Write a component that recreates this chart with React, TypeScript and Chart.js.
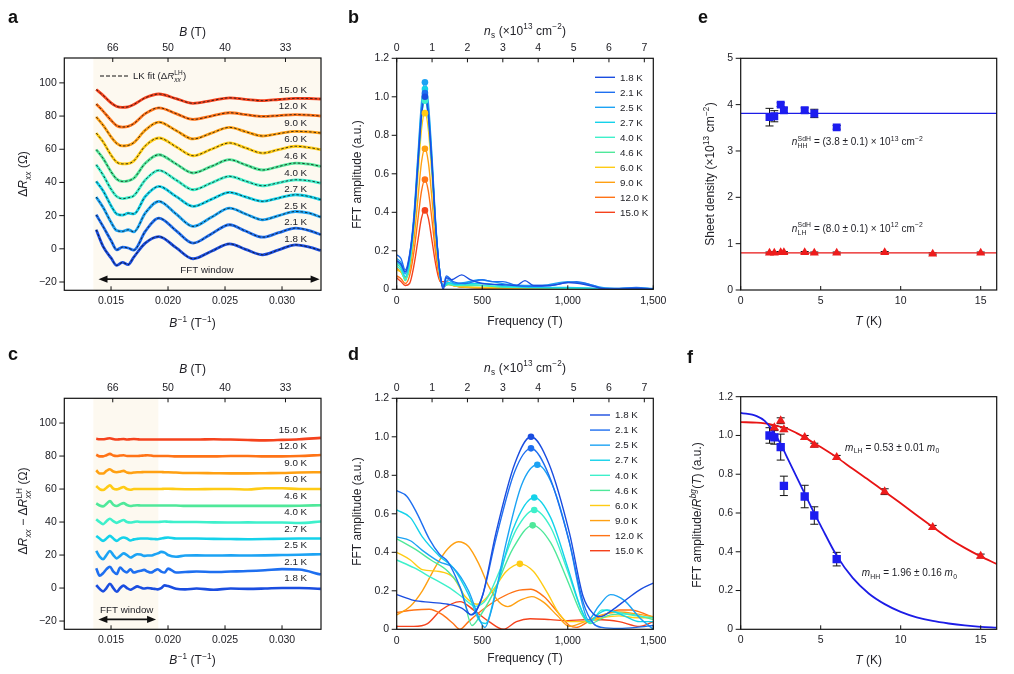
import React, { useEffect, useRef } from 'react';
import { Chart, registerables } from 'chart.js';

Chart.register(...registerables);

const FONT = '"Liberation Sans", Arial, Helvetica, sans-serif';
const INK = '#222228';
const SHADE = '#fdf9f0';

// ---------------- shared ----------------
const TEMPS = ['1.8 K', '2.1 K', '2.5 K', '2.7 K', '4.0 K', '4.6 K', '6.0 K', '9.0 K', '12.0 K', '15.0 K'];
const COLORS = ['#1a4de0', '#1e6ff0', '#1ca3f4', '#14d2ea', '#3ef0cb', '#4fe89a', '#ffcb14', '#ffa012', '#ff7316', '#f5421c'];
const OFFSETS = [0, 10, 20, 30, 40, 50, 60, 70, 80, 90];

// ---------------- panel a (ΔRxx vs 1/B) ----------------
const X_A = [0.0137, 0.0143, 0.0150, 0.0155, 0.0160, 0.0165, 0.0170, 0.0180, 0.0192, 0.0207, 0.0222, 0.0238, 0.0254, 0.0268, 0.0283, 0.0297, 0.0312, 0.0324, 0.0334];
const A_1_8 = [11.5, 1.5, -5.5, -10, -8.2, -9.5, -5, 3.4, 7.4, 0.7, -6, -1.5, 3, -0.3, -3.6, -0.6, 2.4, 1, -1];
const A_2_1 = [20.5, 13.5, 5, -0.6, 1, 0.5, -0.8, 10.5, 18.5, 11, 3.4, 9, 14.5, 10.7, 7, 9.7, 12.5, 11, 8.5];
const A_2_5 = [31.2, 25, 16, 11, 10.5, 11.5, 10.2, 21.5, 28.6, 21, 13.5, 19, 24.5, 21, 17.5, 20, 22.5, 21.5, 19.1];
const A_2_7 = [40.6, 35, 26, 21, 20.3, 21.5, 21, 31.5, 37.6, 31.6, 25.6, 29.8, 34, 31.3, 28.6, 30.6, 32.6, 31.5, 29.6];
const A_4_0 = [50.7, 44.5, 36, 31.5, 30.2, 30.8, 32, 41.5, 47.3, 41.5, 35.6, 39.7, 43.7, 40.8, 38, 39.8, 41.6, 41, 39.6];
const A_4_6 = [59.8, 54.5, 46.5, 42, 40.6, 41, 42.5, 51.5, 56.7, 51.2, 45.7, 49.7, 53.7, 50.6, 47.5, 49.6, 51.7, 51, 49.7];
const A_6_0 = [69.8, 64.5, 56.5, 52.2, 51.2, 51.3, 53, 62, 66.8, 61.5, 56.1, 60, 63.8, 60.8, 57.7, 59.8, 61.8, 61, 59.8];
const A_9_0 = [79.5, 74.5, 67.5, 63.5, 62, 62.3, 64, 71.5, 76.3, 71.3, 66.2, 69.7, 73.2, 70.6, 68, 69.4, 70.8, 70.5, 69.8];
const A_12_0 = [87.3, 83, 77.5, 74.2, 73.4, 73.8, 75.5, 81.5, 85, 81.5, 78, 80, 82, 80.9, 79.8, 80.3, 80.9, 80.6, 80];
const A_15_0 = [96, 92.5, 88, 85.8, 85.3, 85.6, 87, 91, 93.3, 90.5, 87.7, 89.3, 91, 90.1, 89.3, 90, 90.7, 90.6, 90.3];
const DATA_A = [A_1_8, A_2_1, A_2_5, A_2_7, A_4_0, A_4_6, A_6_0, A_9_0, A_12_0, A_15_0];

// ---------------- panel c (residual, relative to each trace's offset) ----------------
const X_C = [0.0137, 0.0140, 0.0143, 0.0146, 0.0149, 0.0152, 0.0155, 0.0158, 0.0161, 0.0164, 0.0167, 0.0170, 0.0173, 0.0176, 0.0179, 0.0182, 0.0185, 0.0188, 0.0191, 0.0194, 0.0197, 0.0200, 0.0207, 0.0215, 0.0225, 0.0240, 0.0255, 0.0270, 0.0285, 0.0300, 0.0315, 0.0334];
const C_1_8 = [1.8, -0.5, -2, 0, 2.6, 0, -2.2, 0, 1.5, 0, -1, 0, 1, 0.3, -0.3, 0, -0.2, -0.5, -0.8, 0, 1.6, 1.2, -0.4, -0.8, -0.3, -1, -0.3, -0.5, -0.3, 0, 0, -0.5];
const C_2_1 = [2, -2.5, -1, 1.5, 2.9, 0, -1.5, 2.5, 0.5, -0.5, 1.4, -0.6, 0, 0.5, 1, 0, -0.6, 0.4, 1.4, 0, -0.6, 1.8, -0.6, -0.3, 0, -0.3, 0, 0.3, 0.8, 1.5, 1.2, -1.8];
const C_2_5 = [2.5, -1, -2.5, 0, 2.5, 0, -2, -0.5, 1, 0, -1.5, -0.5, 0.5, 0.3, -0.5, -0.3, -0.3, 0.3, 1, 1.9, 1.5, 0, -1, -0.3, -0.2, -0.3, -0.2, -0.3, -0.2, 0, 0.2, 0.5];
const C_2_7 = [1.6, 0, -1.4, 0, 1.6, 0, -1.4, 0, 0.6, 0, -1.2, -0.5, -0.2, 0, 0, 0, -0.2, -0.3, -0.4, 0, 0.4, 0.6, 0, 0, 0, -0.2, -0.3, -0.4, -0.3, -0.1, 0, 0];
const C_4_0 = [1.7, 0, -1.3, 0.5, 2, 0.5, -0.5, 0.5, 1.2, 0, -0.3, 0, 0.3, 0, 0, 0, 0, 0, 0, 0.2, 0.3, 0.2, 0, 0, 0, -0.2, -0.3, -0.2, -0.3, -0.3, -0.6, 0.3];
const C_4_6 = [1.3, 0, -0.5, 1, 2.7, 0.5, -0.3, 0.7, 1.5, 0.3, -0.3, 0, 0.2, 0, 0, 0, 0, 0, 0, 0, 0, 0, 0, -0.2, -0.2, -0.2, -0.2, -0.2, -0.2, -0.2, -0.1, 0.2];
const C_6_0 = [1.8, 0, -0.6, 0.8, 2.2, 0.3, -0.2, 0.5, 1.2, 0, -0.4, 0, 0, 0, 0, 0, 0, 0, 0, 0, 0.2, 0.2, 0, -0.1, -0.1, 0, 0, -0.3, 0.5, 0.5, 0, 0];
const C_9_0 = [1.4, -0.6, -0.6, 1, 2, 0.6, 0.2, 0.5, 1, 0, -0.3, 0, 0.2, 0.2, 0.3, 0.3, 0.3, 0.3, 0.3, 0.3, 0.2, 0.2, 0, -0.3, -0.3, -0.4, -0.5, -0.5, -0.4, -0.3, 0, 0.2];
const C_12_0 = [0.8, -0.2, -0.2, 0.5, 1.3, 0.3, 0, 0.3, 0.5, 0, 0, 0, 0, 0.2, 0.3, 0.5, 0.3, 0, 0, 0, 0, 0, -0.2, -0.2, -0.2, -0.2, 0, 0, -0.2, -0.2, 0, 0.6];
const C_15_0 = [0.5, 0.2, 0.2, 0.5, 0.8, 0.3, 0, 0.2, 0.3, 0, 0.2, 0.3, 0.2, 0, 0, 0, 0, 0, 0, 0, 0, 0, 0, 0, 0, 0.2, 0, -0.3, -0.5, -0.2, 0.2, 1.0];
const DATA_C = [C_1_8, C_2_1, C_2_5, C_2_7, C_4_0, C_4_6, C_6_0, C_9_0, C_12_0, C_15_0];

// ---------------- panel b (FFT of ΔRxx) [frequency T, amplitude] ----------------
const B_1_8 = [[0, 0.15], [25, 0.13], [50, 0.09], [75, 0.17], [100, 0.35], [125, 0.66], [145, 0.9], [165, 1.0], [185, 0.9], [205, 0.66], [230, 0.3], [255, 0.07], [272, 0.0], [290, 0.06], [320, 0.05], [380, 0.075], [430, 0.05], [500, 0.03], [600, 0.025], [700, 0.02], [750, 0.045], [800, 0.02], [900, 0.02], [1000, 0.035], [1100, 0.025], [1200, 0.005], [1300, 0.0], [1400, 0.005], [1500, 0.0]];
const B_2_1 = [[0, 0.18], [25, 0.16], [50, 0.1], [75, 0.18], [100, 0.36], [125, 0.67], [145, 0.92], [165, 1.02], [185, 0.92], [205, 0.67], [230, 0.3], [255, 0.07], [270, 0.01], [290, 0.07], [330, 0.04], [400, 0.03], [500, 0.05], [560, 0.04], [620, 0.04], [700, 0.02], [800, 0.015], [900, 0.02], [1050, 0.04], [1150, 0.02], [1200, 0.005], [1300, 0.005], [1400, 0.01], [1500, 0.0]];
const B_2_5 = [[0, 0.16], [25, 0.14], [50, 0.08], [75, 0.17], [100, 0.38], [125, 0.71], [145, 0.97], [165, 1.075], [185, 0.97], [205, 0.71], [230, 0.32], [255, 0.07], [275, 0.02], [300, 0.05], [340, 0.03], [400, 0.035], [480, 0.05], [560, 0.04], [650, 0.025], [750, 0.02], [850, 0.02], [1000, 0.04], [1100, 0.03], [1200, 0.01], [1300, 0.005], [1400, 0.008], [1500, 0.005]];
const B_2_7 = [[0, 0.14], [25, 0.12], [50, 0.065], [75, 0.15], [100, 0.36], [125, 0.69], [145, 0.94], [165, 1.04], [185, 0.94], [205, 0.69], [230, 0.31], [255, 0.07], [275, 0.015], [300, 0.035], [350, 0.025], [420, 0.03], [500, 0.03], [600, 0.02], [700, 0.015], [800, 0.01], [1000, 0.01], [1200, 0.005], [1500, 0.0]];
const B_4_0 = [[0, 0.12], [25, 0.1], [50, 0.05], [75, 0.13], [100, 0.33], [125, 0.65], [145, 0.89], [165, 0.98], [185, 0.89], [205, 0.65], [230, 0.29], [255, 0.06], [275, 0.015], [300, 0.03], [350, 0.02], [420, 0.025], [500, 0.02], [600, 0.015], [700, 0.01], [850, 0.008], [1000, 0.005], [1500, 0.0]];
const B_4_6 = [[0, 0.13], [25, 0.11], [50, 0.045], [75, 0.13], [100, 0.34], [125, 0.66], [145, 0.9], [165, 0.995], [185, 0.9], [205, 0.66], [230, 0.29], [255, 0.06], [275, 0.015], [300, 0.025], [350, 0.02], [420, 0.02], [500, 0.02], [600, 0.012], [700, 0.01], [1000, 0.005], [1500, 0.0]];
const B_6_0 = [[0, 0.10], [25, 0.09], [50, 0.055], [75, 0.12], [100, 0.31], [125, 0.6], [145, 0.83], [165, 0.915], [185, 0.83], [205, 0.6], [230, 0.27], [255, 0.06], [275, 0.015], [300, 0.03], [350, 0.015], [420, 0.012], [500, 0.01], [700, 0.008], [1000, 0.005], [1500, 0.0]];
const B_9_0 = [[0, 0.11], [25, 0.09], [50, 0.06], [75, 0.1], [100, 0.25], [125, 0.48], [145, 0.66], [165, 0.73], [185, 0.66], [205, 0.48], [230, 0.21], [255, 0.05], [275, 0.015], [300, 0.025], [350, 0.015], [420, 0.01], [500, 0.008], [700, 0.005], [1000, 0.003], [1500, 0.0]];
const B_12_0 = [[0, 0.07], [25, 0.055], [50, 0.03], [75, 0.07], [100, 0.19], [125, 0.37], [145, 0.51], [165, 0.57], [185, 0.51], [205, 0.37], [230, 0.17], [255, 0.045], [280, 0.02], [300, 0.03], [350, 0.015], [420, 0.01], [600, 0.005], [1500, 0.0]];
const B_15_0 = [[0, 0.06], [25, 0.04], [50, 0.02], [75, 0.03], [100, 0.12], [125, 0.26], [145, 0.37], [165, 0.41], [185, 0.37], [205, 0.26], [230, 0.12], [255, 0.04], [290, 0.04], [330, 0.02], [400, 0.01], [600, 0.005], [1500, 0.0]];
const DATA_B = [B_1_8, B_2_1, B_2_5, B_2_7, B_4_0, B_4_6, B_6_0, B_9_0, B_12_0, B_15_0];
const B_PEAK_F = [165, 165, 165, 165, 165, 165, 165, 165, 165, 165];
const B_PEAK_A = [1.0, 1.02, 1.075, 1.04, 0.98, 0.995, 0.915, 0.73, 0.57, 0.41];

// ---------------- panel d (FFT of residual) ----------------
const D_1_8 = [[0, 0.18], [100, 0.15], [200, 0.14], [300, 0.13], [380, 0.11], [440, 0.075], [500, 0.17], [580, 0.5], [690, 0.86], [785, 1.0], [890, 0.86], [1010, 0.5], [1090, 0.17], [1150, 0.08], [1190, 0.066], [1260, 0.1], [1350, 0.16], [1430, 0.21], [1500, 0.24]];
const D_2_1 = [[0, 0.72], [60, 0.69], [120, 0.6], [190, 0.47], [250, 0.39], [300, 0.35], [370, 0.22], [430, 0.075], [500, 0.17], [580, 0.47], [690, 0.82], [785, 0.94], [890, 0.8], [1010, 0.45], [1090, 0.14], [1150, 0.03], [1200, 0.01], [1300, 0.005], [1400, 0.01], [1500, 0.02]];
const D_2_5 = [[0, 0.48], [80, 0.46], [150, 0.41], [250, 0.35], [330, 0.32], [420, 0.2], [490, 0.04], [515, 0.01], [560, 0.12], [640, 0.45], [730, 0.75], [822, 0.855], [910, 0.75], [1010, 0.45], [1080, 0.15], [1120, 0.05], [1180, 0.12], [1250, 0.18], [1330, 0.15], [1420, 0.06], [1500, 0.0]];
const D_2_7 = [[0, 0.62], [80, 0.58], [150, 0.48], [250, 0.38], [330, 0.32], [420, 0.18], [480, 0.05], [520, 0.03], [580, 0.2], [680, 0.52], [804, 0.685], [900, 0.58], [1000, 0.32], [1080, 0.1], [1120, 0.04], [1180, 0.08], [1230, 0.1], [1330, 0.07], [1420, 0.04], [1500, 0.04]];
const D_4_0 = [[0, 0.36], [100, 0.32], [200, 0.27], [300, 0.22], [380, 0.17], [460, 0.12], [520, 0.15], [600, 0.3], [700, 0.52], [804, 0.62], [900, 0.53], [1000, 0.3], [1080, 0.1], [1130, 0.035], [1200, 0.1], [1280, 0.09], [1400, 0.07], [1500, 0.06]];
const D_4_6 = [[0, 0.47], [100, 0.42], [200, 0.36], [300, 0.3], [380, 0.2], [440, 0.02], [480, 0.06], [560, 0.18], [680, 0.42], [795, 0.54], [900, 0.45], [1000, 0.25], [1080, 0.08], [1130, 0.03], [1230, 0.07], [1330, 0.08], [1420, 0.07], [1500, 0.05]];
const D_6_0 = [[0, 0.40], [80, 0.36], [150, 0.31], [250, 0.30], [330, 0.27], [400, 0.17], [470, 0.13], [560, 0.2], [640, 0.3], [720, 0.34], [800, 0.3], [880, 0.19], [950, 0.08], [1000, 0.04], [1100, 0.04], [1200, 0.06], [1300, 0.07], [1400, 0.06], [1500, 0.06]];
const D_9_0 = [[0, 0.075], [80, 0.12], [150, 0.2], [230, 0.33], [300, 0.42], [360, 0.455], [420, 0.43], [480, 0.34], [540, 0.22], [600, 0.14], [650, 0.118], [720, 0.15], [790, 0.17], [860, 0.14], [940, 0.07], [1010, 0.015], [1100, 0.04], [1200, 0.075], [1300, 0.09], [1400, 0.08], [1500, 0.065]];
const D_12_0 = [[0, 0.087], [100, 0.1], [190, 0.104], [260, 0.08], [330, 0.03], [370, 0.0], [420, 0.04], [500, 0.1], [600, 0.16], [700, 0.2], [785, 0.208], [860, 0.17], [940, 0.09], [1010, 0.02], [1050, 0.01], [1120, 0.04], [1200, 0.07], [1300, 0.1], [1370, 0.1], [1450, 0.08], [1500, 0.06]];
const D_15_0 = [[0, 0.015], [100, 0.015], [180, 0.03], [260, 0.1], [370, 0.144], [450, 0.1], [540, 0.04], [623, 0.0], [700, 0.04], [780, 0.055], [900, 0.05], [1000, 0.045], [1100, 0.05], [1200, 0.05], [1300, 0.04], [1420, 0.015], [1500, 0.04]];
const DATA_D = [D_1_8, D_2_1, D_2_5, D_2_7, D_4_0, D_4_6, D_6_0, D_9_0, D_12_0, D_15_0];
const D_PEAK_F = [785, 785, 822, 804, 804, 795, 720];
const D_PEAK_A = [1.0, 0.94, 0.855, 0.685, 0.62, 0.54, 0.34];

// ---------------- panel e (sheet density) ----------------
const T_HH = [1.8, 2.1, 2.5, 2.7, 4.0, 4.6, 6.0];
const N_HH = [3.73, 3.75, 4.0, 3.88, 3.88, 3.81, 3.51];
const N_HH_ERR = [0.19, 0.12, 0.04, 0.05, 0.05, 0.09, 0.04];
const T_LH = [1.8, 2.1, 2.5, 2.7, 4.0, 4.6, 6.0, 9.0, 12.0, 15.0];
const N_LH = [0.80, 0.80, 0.81, 0.81, 0.81, 0.80, 0.80, 0.81, 0.78, 0.80];
const N_LH_ERR = [0.02, 0.02, 0.02, 0.02, 0.02, 0.02, 0.02, 0.02, 0.02, 0.02];
const N_HH_MEAN = 3.81;
const N_LH_MEAN = 0.80;

// ---------------- panel f (amplitude vs T) ----------------
const T_HH_F = [1.8, 2.1, 2.5, 2.7, 4.0, 4.6, 6.0];
const AMP_HH = [1.0, 0.99, 0.94, 0.74, 0.685, 0.587, 0.362];
const AMP_HH_ERR = [0.04, 0.035, 0.067, 0.05, 0.058, 0.045, 0.035];
const T_LH_F = [2.1, 2.5, 2.7, 4.0, 4.6, 6.0, 9.0, 12.0, 15.0];
const AMP_LH = [1.04, 1.076, 1.03, 0.99, 0.95, 0.887, 0.71, 0.526, 0.378];
const AMP_LH_ERR = [0.01, 0.015, 0.01, 0.01, 0.01, 0.01, 0.015, 0.01, 0.01];
const FIT_T = [0, 1, 1.5, 2, 2.5, 3, 3.5, 4, 4.5, 5, 6, 7, 8, 9, 10, 11, 12, 13, 14, 15, 16];
const FIT_HH = [1.117, 1.10, 1.075, 1.025, 0.955, 0.87, 0.785, 0.70, 0.615, 0.535, 0.38, 0.265, 0.185, 0.13, 0.09, 0.062, 0.043, 0.03, 0.02, 0.013, 0.009];
const FIT_LH = [1.069, 1.066, 1.062, 1.055, 1.045, 1.032, 1.012, 0.99, 0.965, 0.94, 0.887, 0.828, 0.77, 0.71, 0.65, 0.588, 0.528, 0.47, 0.42, 0.376, 0.337];

// ---------------- tick labels ----------------
const TICKS_INV_B = [0.015, 0.020, 0.025, 0.030];
const TICKS_B_FIELD = [66, 50, 40, 33];
const TICKS_DR = [-20, 0, 20, 40, 60, 80, 100];
const TICKS_FREQ = [0, 500, 1000, 1500];
const TICKS_NS = [0, 1, 2, 3, 4, 5, 6, 7];
const TICKS_AMP = [0, 0.2, 0.4, 0.6, 0.8, 1.0, 1.2];
const TICKS_T = [0, 5, 10, 15];
const TICKS_DENS = [0, 1, 2, 3, 4, 5];
const NS_PER_FREQ = 7.254 / 1500; // ×10^13 cm^-2 per tesla (2e/h)

// ---------------- rich text ----------------
type Seg = { t?: string; it?: boolean; sub?: string; sup?: string; subIt?: boolean; supIt?: boolean };

function fnt(size: number, it?: boolean, bold?: boolean) {
  return `${it ? 'italic ' : ''}${bold ? 'bold ' : ''}${size}px ${FONT}`;
}

function richWidth(ctx: CanvasRenderingContext2D, segs: Seg[], size: number) {
  let w = 0;
  for (const s of segs) {
    if (s.t) { ctx.font = fnt(size, s.it); w += ctx.measureText(s.t).width; }
    if (s.sub || s.sup) {
      const ss = size * 0.68;
      let a = 0, b = 0;
      if (s.sub) { ctx.font = fnt(ss, s.subIt); a = ctx.measureText(s.sub).width; }
      if (s.sup) { ctx.font = fnt(ss, s.supIt); b = ctx.measureText(s.sup).width; }
      w += Math.max(a, b) + 0.6;
    }
  }
  return w;
}

function drawRich(ctx: CanvasRenderingContext2D, segs: Seg[], x: number, y: number, size: number, align = 'left', rot = 0) {
  ctx.save();
  ctx.translate(x, y);
  if (rot) ctx.rotate(rot);
  const w = richWidth(ctx, segs, size);
  let cx = align === 'center' ? -w / 2 : align === 'right' ? -w : 0;
  ctx.fillStyle = INK;
  ctx.textBaseline = 'alphabetic';
  ctx.textAlign = 'left';
  const base = size * 0.36;
  for (const s of segs) {
    if (s.t) {
      ctx.font = fnt(size, s.it);
      ctx.fillText(s.t, cx, base);
      cx += ctx.measureText(s.t).width;
    }
    if (s.sub || s.sup) {
      const ss = size * 0.68;
      let a = 0, b = 0;
      if (s.sub) { ctx.font = fnt(ss, s.subIt); ctx.fillText(s.sub, cx + 0.3, base + size * 0.27); a = ctx.measureText(s.sub).width; }
      if (s.sup) { ctx.font = fnt(ss, s.supIt); ctx.fillText(s.sup, cx + 0.3, base - size * 0.46); b = ctx.measureText(s.sup).width; }
      cx += Math.max(a, b) + 0.6;
    }
  }
  ctx.restore();
}

// ---------------- drawing helpers ----------------
type Box = { x: number; y: number; w: number; h: number };
type Area = { l: number; t: number; r: number; b: number };

function frameAndTicks(chart: any) {
  const { ctx, chartArea: ca } = chart;
  ctx.save();
  ctx.strokeStyle = '#111';
  ctx.lineWidth = 1.2;
  ctx.strokeRect(ca.left, ca.top, ca.right - ca.left, ca.bottom - ca.top);
  ctx.lineWidth = 1;
  for (const s of Object.values(chart.scales) as any[]) {
    for (const t of s.ticks) {
      const p = s.getPixelForValue(t.value);
      ctx.beginPath();
      if (s.position === 'left') { ctx.moveTo(ca.left - 5, p); ctx.lineTo(ca.left, p); }
      else if (s.position === 'bottom') { ctx.moveTo(p, ca.bottom); ctx.lineTo(p, ca.bottom - 4); }
      else if (s.position === 'top') { ctx.moveTo(p, ca.top); ctx.lineTo(p, ca.top + 4); }
      ctx.stroke();
    }
  }
  ctx.restore();
}

function dblArrow(ctx: CanvasRenderingContext2D, x1: number, x2: number, y: number) {
  ctx.save();
  ctx.strokeStyle = '#111';
  ctx.fillStyle = '#111';
  ctx.lineWidth = 1.8;
  ctx.beginPath();
  ctx.moveTo(x1 + 5, y); ctx.lineTo(x2 - 5, y); ctx.stroke();
  ctx.beginPath();
  ctx.moveTo(x1, y); ctx.lineTo(x1 + 9, y - 3.6); ctx.lineTo(x1 + 9, y + 3.6); ctx.closePath(); ctx.fill();
  ctx.beginPath();
  ctx.moveTo(x2, y); ctx.lineTo(x2 - 9, y - 3.6); ctx.lineTo(x2 - 9, y + 3.6); ctx.closePath(); ctx.fill();
  ctx.restore();
}

function errorBars(chart: any, xs: number[], ys: number[], es: number[]) {
  const { ctx } = chart;
  const sx = chart.scales.x, sy = chart.scales.y;
  ctx.save();
  ctx.strokeStyle = '#111';
  ctx.lineWidth = 1;
  xs.forEach((xv, i) => {
    const x = sx.getPixelForValue(xv);
    const y1 = sy.getPixelForValue(ys[i] - es[i]);
    const y2 = sy.getPixelForValue(ys[i] + es[i]);
    ctx.beginPath();
    ctx.moveTo(x, y1); ctx.lineTo(x, y2);
    ctx.moveTo(x - 4, y1); ctx.lineTo(x + 4, y1);
    ctx.moveTo(x - 4, y2); ctx.lineTo(x + 4, y2);
    ctx.stroke();
  });
  ctx.restore();
}

function letter(ctx: CanvasRenderingContext2D, ch: string, x: number, y: number) {
  ctx.save();
  ctx.fillStyle = '#111';
  ctx.font = fnt(18, false, true);
  ctx.textBaseline = 'alphabetic';
  ctx.textAlign = 'left';
  ctx.fillText(ch, x, y);
  ctx.restore();
}

function legendLines(ctx: CanvasRenderingContext2D, x1: number, x2: number, tx: number, y0: number, dy: number) {
  ctx.save();
  TEMPS.forEach((t, i) => {
    const y = y0 + dy * i;
    ctx.strokeStyle = COLORS[i];
    ctx.lineWidth = 1.4;
    ctx.beginPath(); ctx.moveTo(x1, y); ctx.lineTo(x2, y); ctx.stroke();
    ctx.fillStyle = INK;
    ctx.font = fnt(9.8);
    ctx.textBaseline = 'middle';
    ctx.textAlign = 'left';
    ctx.fillText(t, tx, y + 0.5);
  });
  ctx.restore();
}

function lin(pos: string, min: number, max: number, ticks: number[], fmt: (v: number) => string, pad: number) {
  return {
    type: 'linear', position: pos, min, max,
    axis: pos === 'left' ? 'y' : 'x',
    afterBuildTicks: (s: any) => { s.ticks = ticks.map((v) => ({ value: v })); },
    grid: { display: false, drawTicks: false },
    border: { display: false },
    ticks: { autoSkip: false, maxRotation: 0, minRotation: 0, padding: pad, color: INK, font: { family: FONT, size: 10.5 }, callback: (v: any) => fmt(Number(v)) },
  };
}

function makeConfig(box: Box, area: Area, datasets: any[], xs: any, ys: any, top: any, before: any, after: any) {
  const yW = area.l - box.x;
  const bH = box.y + box.h - area.b;
  const tH = area.t - box.y;
  const scales: any = {
    x: { ...xs, afterFit: (s: any) => { s.height = bH; } },
    y: { ...ys, afterFit: (s: any) => { s.width = yW; } },
  };
  if (top) scales.x2 = { ...top, afterFit: (s: any) => { s.height = tH; } };
  return {
    type: 'scatter',
    data: { datasets },
    options: {
      responsive: false,
      animation: false,
      events: [],
      layout: { padding: { left: 0, right: box.x + box.w - area.r, top: top ? 0 : tH, bottom: 0 } },
      plugins: { legend: { display: false }, tooltip: { enabled: false } },
      elements: { point: { radius: 0 }, line: { cubicInterpolationMode: 'monotone' } },
      scales,
    },
    plugins: [{
      id: 'deco',
      beforeDatasetsDraw: (c: any) => { if (before) before(c); },
      afterDraw: (c: any) => { frameAndTicks(c); if (after) after(c); },
    }],
  };
}

const fmtInvB = (v: number) => v.toFixed(3);
const fmtDR = (v: number) => (v < 0 ? '\u2212' + Math.abs(v) : String(v));
const fmtField = (v: number) => String(Math.round(1 / v));
const fmtFreq = (v: number) => v.toLocaleString('en-US');
const fmtAmp = (v: number) => (v === 0 ? '0' : v.toFixed(1));
const fmtInt = (v: number) => String(Math.round(v));

const T_B: Seg[] = [{ t: 'B', it: true }, { t: ' (T)' }];
const T_INVB: Seg[] = [{ t: 'B', it: true, sup: '\u22121' }, { t: ' (T' }, { sup: '\u22121' }, { t: ')' }];
const T_NS: Seg[] = [{ t: 'n', it: true, sub: 's' }, { t: ' (\u00d710' }, { sup: '13' }, { t: ' cm' }, { sup: '\u22122' }, { t: ')' }];
const T_FREQ: Seg[] = [{ t: 'Frequency (T)' }];
const T_FFT: Seg[] = [{ t: 'FFT amplitude (a.u.)' }];
const T_TK: Seg[] = [{ t: 'T', it: true }, { t: ' (K)' }];
const UP = -Math.PI / 2;

// ---------------- panel specs ----------------
function buildA(box: Box, area: Area, residual: boolean) {
  const ds: any[] = [];
  const xs = residual ? X_C : X_A;
  (residual ? DATA_C : DATA_A).forEach((arr, i) => {
    const pts = xs.map((x, j) => ({ x, y: residual ? arr[j] + OFFSETS[i] : arr[j] }));
    ds.push({ data: pts, showLine: true, borderColor: COLORS[i], borderWidth: residual ? 2.6 : 2.8, pointRadius: 0, order: 2 });
    if (!residual) ds.push({ data: pts, showLine: true, borderColor: '#111', borderWidth: 0.8, borderDash: [2.5, 2], pointRadius: 0, order: 1 });
  });
  const P = (x: number, y: number) => [x - box.x, y - box.y];
  const before = (c: any) => {
    const { ctx, chartArea: ca } = c;
    const x0 = c.scales.x.getPixelForValue(0.01345);
    const x1 = residual ? c.scales.x.getPixelForValue(0.01915) : ca.right;
    ctx.save(); ctx.fillStyle = SHADE; ctx.fillRect(x0, ca.top, x1 - x0, ca.bottom - ca.top); ctx.restore();
  };
  const after = (c: any) => {
    const { ctx } = c;
    const sx = c.scales.x, sy = c.scales.y;
    let [lx, ly] = P(8, box.y + 23);
    letter(ctx, residual ? 'c' : 'a', lx, ly);
    let [tx, ty] = P(192.6, box.y + 32);
    drawRich(ctx, T_B, tx, ty, 12, 'center');
    [tx, ty] = P(192.6, box.y + 323);
    drawRich(ctx, T_INVB, tx, ty, 12, 'center');
    [tx, ty] = P(23, box.y + 174);
    const ytitle: Seg[] = residual
      ? [{ t: '\u0394' }, { t: 'R', it: true, sub: 'xx', subIt: true }, { t: ' \u2212 \u0394' }, { t: 'R', it: true, sub: 'xx', subIt: true, sup: 'LH' }, { t: ' (\u03a9)' }]
      : [{ t: '\u0394' }, { t: 'R', it: true, sub: 'xx', subIt: true }, { t: ' (\u03a9)' }];
    drawRich(ctx, ytitle, tx, ty, 12, 'center', UP);
    // temperature labels
    ctx.save();
    ctx.fillStyle = INK; ctx.font = fnt(9.8); ctx.textAlign = 'right'; ctx.textBaseline = 'middle';
    TEMPS.forEach((t, i) => ctx.fillText(t, sx.getPixelForValue(0.0322), sy.getPixelForValue(OFFSETS[i] + 5.8)));
    ctx.restore();
    // FFT window
    if (residual) {
      dblArrow(ctx, sx.getPixelForValue(0.01389), sx.getPixelForValue(0.01895), sy.getPixelForValue(-19));
      drawRich(ctx, [{ t: 'FFT window' }], sx.getPixelForValue(0.01638), sy.getPixelForValue(-12.7), 9.8, 'center');
    } else {
      dblArrow(ctx, sx.getPixelForValue(0.0139), sx.getPixelForValue(0.0333), sy.getPixelForValue(-18.3));
      drawRich(ctx, [{ t: 'FFT window' }], sx.getPixelForValue(0.02342), sy.getPixelForValue(-12.3), 9.8, 'center');
      // LK fit legend
      const [a1, ay] = P(100, 76);
      const [a2] = P(128, 76);
      ctx.save(); ctx.strokeStyle = '#111'; ctx.lineWidth = 1; ctx.setLineDash([4, 2]);
      ctx.beginPath(); ctx.moveTo(a1, ay); ctx.lineTo(a2, ay); ctx.stroke(); ctx.restore();
      const [t1] = P(133, 76);
      drawRich(ctx, [{ t: 'LK fit (\u0394' }, { t: 'R', it: true, sub: 'xx', subIt: true, sup: 'LH' }, { t: ')' }], t1, ay, 9.6, 'left');
    }
  };
  return makeConfig(box, area, ds,
    lin('bottom', 0.0109, 0.03342, TICKS_INV_B, fmtInvB, 5),
    lin('left', -25, 115, TICKS_DR, fmtDR, 7.5),
    lin('top', 0.0109, 0.03342, TICKS_B_FIELD.map((b) => 1 / b), fmtField, 3.5),
    before, after);
}

function buildFFT(box: Box, area: Area, second: boolean) {
  const ds: any[] = [];
  (second ? DATA_D : DATA_B).forEach((arr, i) => {
    ds.push({ data: arr.map(([x, y]) => ({ x, y })), showLine: true, borderColor: COLORS[i], borderWidth: 1.4, pointRadius: 0, order: 2 });
  });
  const pf = second ? D_PEAK_F : B_PEAK_F;
  const pa = second ? D_PEAK_A : B_PEAK_A;
  pa.forEach((a, i) => {
    ds.push({ data: [{ x: pf[i], y: a }], showLine: false, pointRadius: 3.3, pointBackgroundColor: COLORS[i], pointBorderWidth: 0, order: 1 });
  });
  const P = (x: number, y: number) => [x - box.x, y - box.y];
  const after = (c: any) => {
    const { ctx } = c;
    let [lx, ly] = P(348, box.y + 23);
    letter(ctx, second ? 'd' : 'b', lx, ly);
    let [tx, ty] = P(525, box.y + 30.5);
    drawRich(ctx, T_NS, tx, ty, 12, 'center');
    [tx, ty] = P(525, box.y + 321);
    drawRich(ctx, T_FREQ, tx, ty, 12, 'center');
    [tx, ty] = P(356.7, box.y + 174.5);
    drawRich(ctx, T_FFT, tx, ty, 12, 'center', UP);
    if (second) {
      const [x1, y0] = P(590, 415); const [x2] = P(610, 0); const [t1] = P(615, 0);
      legendLines(ctx, x1, x2, t1, y0, 15.08);
    } else {
      const [x1, y0] = P(595, 77.3); const [x2] = P(615, 0); const [t1] = P(620, 0);
      legendLines(ctx, x1, x2, t1, y0, 15.0);
    }
  };
  return makeConfig(box, area, ds,
    lin('bottom', 0, 1500, TICKS_FREQ, fmtFreq, 5.5),
    lin('left', 0, 1.2, TICKS_AMP, fmtAmp, 7.5),
    lin('top', 0, 1500 * NS_PER_FREQ, TICKS_NS, fmtInt, 3.5),
    null, after);
}

function buildE(box: Box, area: Area) {
  const ds: any[] = [
    { data: T_HH.map((x, i) => ({ x, y: N_HH[i] })), showLine: false, pointStyle: 'rect', pointRadius: 5.6, pointBackgroundColor: '#1c1cf0', pointBorderWidth: 0, order: 0 },
    { data: T_LH.map((x, i) => ({ x, y: N_LH[i] })), showLine: false, pointStyle: 'triangle', pointRadius: 5.2, pointBackgroundColor: '#ee1c1c', pointBorderWidth: 0, order: 0 },
    { data: [{ x: 0, y: N_HH_MEAN }, { x: 16, y: N_HH_MEAN }], showLine: true, borderColor: '#1c1ce6', borderWidth: 1.2, pointRadius: 0, order: 3 },
    { data: [{ x: 0, y: N_LH_MEAN }, { x: 16, y: N_LH_MEAN }], showLine: true, borderColor: '#e81414', borderWidth: 1.2, pointRadius: 0, order: 3 },
  ];
  const P = (x: number, y: number) => [x - box.x, y - box.y];
  const before = (c: any) => {
    errorBars(c, T_HH, N_HH, N_HH_ERR);
    errorBars(c, T_LH, N_LH, N_LH_ERR);
  };
  const after = (c: any) => {
    const { ctx } = c;
    const sx = c.scales.x, sy = c.scales.y;
    let [lx, ly] = P(698, 23);
    letter(ctx, 'e', lx, ly);
    let [tx, ty] = P(868.7, 321);
    drawRich(ctx, T_TK, tx, ty, 12, 'center');
    [tx, ty] = P(710, 174);
    drawRich(ctx, [{ t: 'Sheet density (\u00d710' }, { sup: '13' }, { t: ' cm' }, { sup: '\u22122' }, { t: ')' }], tx, ty, 12, 'center', UP);
    drawRich(ctx, [{ t: 'n', it: true, sub: 'HH', sup: 'SdH' }, { t: ' = (3.8 \u00b1 0.1) \u00d7 10' }, { sup: '13' }, { t: ' cm' }, { sup: '\u22122' }],
      sx.getPixelForValue(3.19), sy.getPixelForValue(3.2), 10, 'left');
    drawRich(ctx, [{ t: 'n', it: true, sub: 'LH', sup: 'SdH' }, { t: ' = (8.0 \u00b1 0.1) \u00d7 10' }, { sup: '12' }, { t: ' cm' }, { sup: '\u22122' }],
      sx.getPixelForValue(3.19), sy.getPixelForValue(1.33), 10, 'left');
  };
  return makeConfig(box, area, ds,
    lin('bottom', 0, 16, TICKS_T, fmtInt, 5),
    lin('left', 0, 5, TICKS_DENS, fmtInt, 7.5),
    null, before, after);
}

function buildF(box: Box, area: Area) {
  const ds: any[] = [
    { data: T_HH_F.map((x, i) => ({ x, y: AMP_HH[i] })), showLine: false, pointStyle: 'rect', pointRadius: 5.9, pointBackgroundColor: '#1c1cf0', pointBorderWidth: 0, order: 0 },
    { data: T_LH_F.map((x, i) => ({ x, y: AMP_LH[i] })), showLine: false, pointStyle: 'triangle', pointRadius: 5.4, pointBackgroundColor: '#ee1c1c', pointBorderWidth: 0, order: 0 },
    { data: FIT_T.map((x, i) => ({ x, y: FIT_HH[i] })), showLine: true, borderColor: '#1c1ce6', borderWidth: 1.8, pointRadius: 0, order: 3 },
    { data: FIT_T.map((x, i) => ({ x, y: FIT_LH[i] })), showLine: true, borderColor: '#e81414', borderWidth: 1.8, pointRadius: 0, order: 3 },
  ];
  const P = (x: number, y: number) => [x - box.x, y - box.y];
  const before = (c: any) => {
    errorBars(c, T_HH_F, AMP_HH, AMP_HH_ERR);
    errorBars(c, T_LH_F, AMP_LH, AMP_LH_ERR);
  };
  const after = (c: any) => {
    const { ctx } = c;
    const sx = c.scales.x, sy = c.scales.y;
    let [lx, ly] = P(687, 363);
    letter(ctx, 'f', lx, ly);
    let [tx, ty] = P(868.7, 660);
    drawRich(ctx, T_TK, tx, ty, 12, 'center');
    [tx, ty] = P(697, 515);
    drawRich(ctx, [{ t: 'FFT amplitude/' }, { t: 'R', it: true, sup: 'bg', supIt: true }, { t: '(' }, { t: 'T', it: true }, { t: ') (a.u.)' }], tx, ty, 12, 'center', UP);
    drawRich(ctx, [{ t: 'm', it: true, sub: 'LH' }, { t: ' = 0.53 \u00b1 0.01 ' }, { t: 'm', it: true, sub: '0' }],
      sx.getPixelForValue(6.52), sy.getPixelForValue(0.94), 10, 'left');
    drawRich(ctx, [{ t: 'm', it: true, sub: 'HH' }, { t: ' = 1.96 \u00b1 0.16 ' }, { t: 'm', it: true, sub: '0' }],
      sx.getPixelForValue(7.56), sy.getPixelForValue(0.294), 10, 'left');
  };
  return makeConfig(box, area, ds,
    lin('bottom', 0, 16, TICKS_T, fmtInt, 5),
    lin('left', 0, 1.2, TICKS_AMP, fmtAmp, 7.5),
    null, before, after);
}

type Spec = { id: string; box: Box; area: Area; build: (b: Box, a: Area) => any };

const PANELS: Spec[] = [
  { id: 'a', box: { x: 0, y: 0, w: 338, h: 337 }, area: { l: 64.3, t: 58, r: 321, b: 290.3 }, build: (b, a) => buildA(b, a, false) },
  { id: 'b', box: { x: 338, y: 0, w: 342, h: 337 }, area: { l: 396.7, t: 58.3, r: 653.3, b: 289.3 }, build: (b, a) => buildFFT(b, a, false) },
  { id: 'e', box: { x: 680, y: 0, w: 334, h: 337 }, area: { l: 740.7, t: 58.3, r: 996.7, b: 290 }, build: (b, a) => buildE(b, a) },
  { id: 'c', box: { x: 0, y: 337, w: 338, h: 337 }, area: { l: 64.3, t: 398.3, r: 321, b: 629.3 }, build: (b, a) => buildA(b, a, true) },
  { id: 'd', box: { x: 338, y: 337, w: 342, h: 337 }, area: { l: 396.7, t: 398.3, r: 653.3, b: 629.3 }, build: (b, a) => buildFFT(b, a, true) },
  { id: 'f', box: { x: 680, y: 337, w: 334, h: 337 }, area: { l: 740.7, t: 396.7, r: 996.7, b: 629.3 }, build: (b, a) => buildF(b, a) },
];

function Panel({ spec }: { spec: Spec }) {
  const ref = useRef<HTMLCanvasElement>(null);
  useEffect(() => {
    const chart = new Chart(ref.current as HTMLCanvasElement, spec.build(spec.box, spec.area));
    return () => chart.destroy();
  }, [spec]);
  const { box } = spec;
  return (
    <canvas
      ref={ref}
      width={box.w}
      height={box.h}
      style={{ position: 'absolute', left: box.x, top: box.y, width: box.w, height: box.h }}
    />
  );
}

export default function App() {
  return (
    <div style={{ position: 'absolute', left: 0, top: 0, width: 1014, height: 674, background: '#ffffff', overflow: 'hidden' }}>
      {PANELS.map((p) => <Panel key={p.id} spec={p} />)}
    </div>
  );
}
